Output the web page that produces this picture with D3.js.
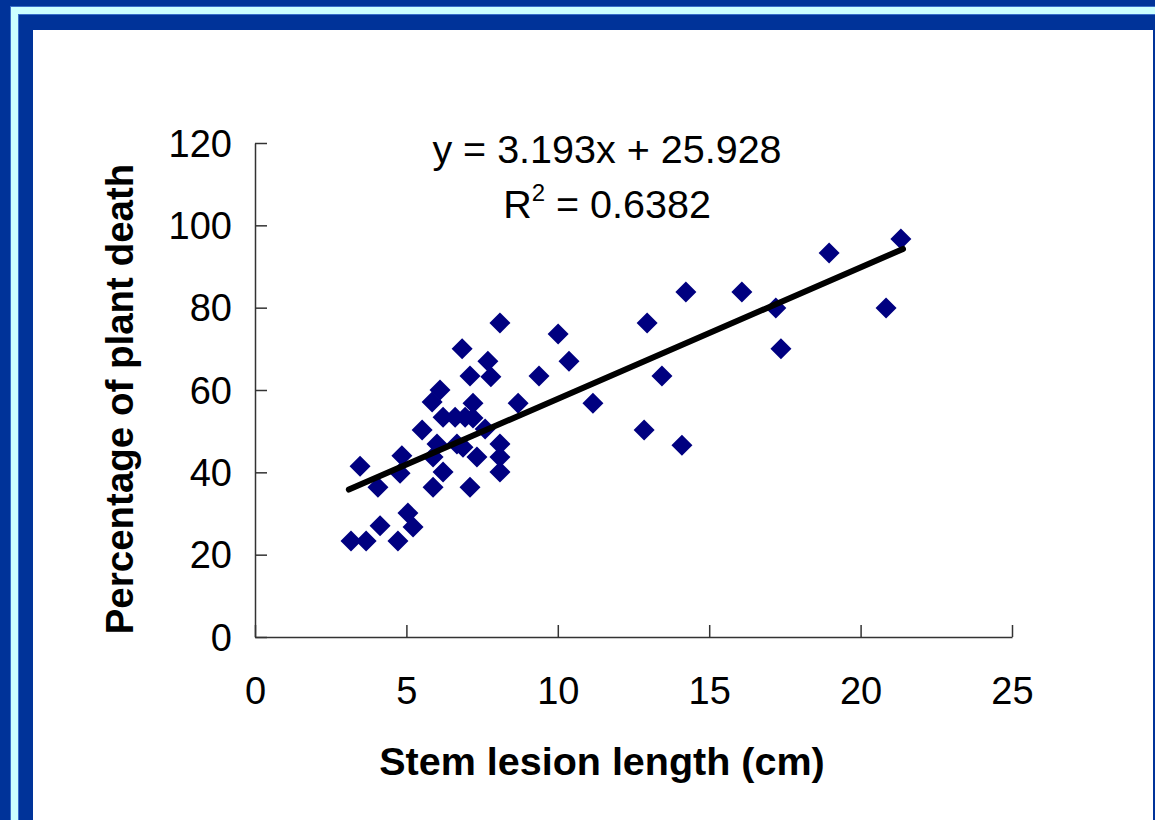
<!DOCTYPE html>
<html>
<head>
<meta charset="utf-8">
<script src="https://cdn.jsdelivr.net/npm/d3@7"></script>
<style>
  html, body { margin: 0; padding: 0; background: #ffffff; }
  svg { display: block; }
  text { font-family: "Liberation Sans", Arial, sans-serif; }
</style>
</head>
<body>
<svg id="chart" width="1155" height="820"></svg>
<script>
// ---- data ----
const lesionLength = [3.17, 3.67, 4.72, 3.47, 4.06, 4.13, 5.22, 5.05, 4.85, 4.79,
  5.52, 5.85, 6.11, 6.21, 6.61, 6.94, 7.20, 7.60, 6.01, 6.67,
  6.87, 8.09, 5.88, 7.33, 8.09, 6.21, 8.09, 5.88, 7.10, 6.84,
  7.69, 7.10, 7.79, 9.38, 7.20, 8.69, 8.09, 10.01, 10.37, 11.16,
  12.85, 14.10, 12.95, 13.44, 14.23, 16.08, 17.20, 17.37, 18.96, 20.84, 21.33];
const plantDeath = [23.3, 23.3, 23.3, 41.5, 36.4, 27.0, 26.7, 30.1, 44.0, 39.8,
  50.3, 57.1, 60.0, 53.4, 53.4, 53.4, 53.2, 50.5, 46.9, 46.9,
  46.1, 46.9, 43.7, 43.7, 43.7, 40.1, 40.1, 36.4, 36.4, 70.0,
  67.0, 63.4, 63.2, 63.4, 56.8, 56.8, 76.3, 73.6, 67.0, 56.8,
  50.3, 46.6, 76.3, 63.4, 83.8, 83.8, 79.9, 70.0, 93.3, 79.9, 96.7];
const trendCoef = [3.193, 25.928];       // slope, intercept
const trendRange = [3.1, 21.4];
const xTicks = [0, 5, 10, 15, 20, 25];
const yTicks = [0, 20, 40, 60, 80, 100, 120];
const xTitle = "Stem lesion length (cm)";
const yTitle = "Percentage of plant death";
const eqLine = "y = 3.193x + 25.928";
const r2Value = "0.6382";

const svg = d3.select("#chart");

// ---- slide frame ----
svg.append("rect").attr("x", 0).attr("y", 0).attr("width", 1155).attr("height", 820).attr("fill", "#003399");
svg.append("rect").attr("x", 10).attr("y", 6).attr("width", 1145).attr("height", 9).attr("fill", "#3a6fc8");
svg.append("rect").attr("x", 10).attr("y", 6).attr("width", 9).attr("height", 814).attr("fill", "#3a6fc8");
svg.append("rect").attr("x", 11).attr("y", 7).attr("width", 1144).attr("height", 7).attr("fill", "#ccffff");
svg.append("rect").attr("x", 11).attr("y", 7).attr("width", 7).attr("height", 813).attr("fill", "#ccffff");
svg.append("rect").attr("x", 33).attr("y", 30).attr("width", 1120).attr("height", 790).attr("fill", "#ffffff");

// ---- scales ----
const x0 = 255, x1 = 1012, y0 = 637, y1 = 143;
const x = d3.scaleLinear().domain([0, 25]).range([x0, x1]);
const y = d3.scaleLinear().domain([0, 120]).range([y0, y1]);

// ---- axes ----
const xAxis = d3.axisBottom(x).tickValues(xTicks).tickSizeInner(-12).tickSizeOuter(0).tickPadding(40);
const yAxis = d3.axisLeft(y).tickValues(yTicks).tickSizeInner(-12).tickSizeOuter(0).tickPadding(23);

const gx = svg.append("g").attr("transform", `translate(0,${y0})`).call(xAxis);
const gy = svg.append("g").attr("transform", `translate(${x0},0)`).call(yAxis);
[gx, gy].forEach(g => {
  g.select(".domain").attr("stroke", "#333").attr("stroke-width", 1.5);
  g.selectAll(".tick line").attr("stroke", "#333").attr("stroke-width", 1.5);
  g.selectAll(".tick text").attr("fill", "#000").style("font-size", "38px")
    .style("font-family", '"Liberation Sans", Arial, sans-serif');
});
gx.selectAll(".tick text").attr("dy", "0.71em");
gy.selectAll(".tick text").attr("dy", "0.35em");

// ---- points ----
const pts = lesionLength.map((v, i) => [v, plantDeath[i]]);
const h = 10.5;
svg.append("g").selectAll("path").data(pts).join("path")
  .attr("transform", d => `translate(${x(d[0])},${y(d[1])})`)
  .attr("d", `M0,${-h}L${h},0L0,${h}L${-h},0Z`)
  .attr("fill", "#000080");

// ---- trend line ----
const trend = trendRange.map(v => [v, trendCoef[0] * v + trendCoef[1]]);
svg.append("path")
  .attr("d", d3.line().x(d => x(d[0])).y(d => y(d[1]))(trend))
  .attr("stroke", "#000").attr("stroke-width", 6).attr("stroke-linecap", "round").attr("fill", "none");

// ---- equation ----
svg.append("text").attr("x", 607).attr("y", 163).attr("text-anchor", "middle")
  .style("font-size", "39.5px").text(eqLine);
const r2 = svg.append("text").attr("x", 607).attr("y", 218).attr("text-anchor", "middle").style("font-size", "39.5px");
r2.append("tspan").text("R");
r2.append("tspan").attr("dy", -17).style("font-size", "24px").text("2");
r2.append("tspan").attr("dy", 17).text(" = " + r2Value);

// ---- titles ----
svg.append("text").attr("x", 602).attr("y", 775).attr("text-anchor", "middle")
  .style("font-size", "39.5px").style("font-weight", "bold").text(xTitle);
svg.append("text").attr("transform", "translate(133,399) rotate(-90)").attr("text-anchor", "middle")
  .style("font-size", "38.5px").style("font-weight", "bold").text(yTitle);
</script>
</body>
</html>
